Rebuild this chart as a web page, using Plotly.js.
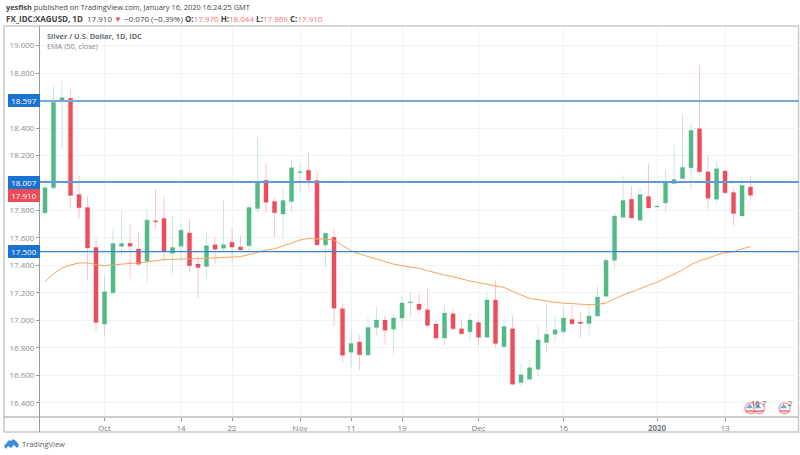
<!DOCTYPE html>
<html><head><meta charset="utf-8">
<script src="https://cdn.plot.ly/plotly-3.0.1.min.js"></script>
<style>html,body{margin:0;padding:0;background:#fff}#c{width:800px;height:455px}</style>
</head><body><div id="c"></div>
<script>
const opens=[17.783,17.965,18.597,18.616,17.916,17.821,17.53,16.973,17.201,17.539,17.561,17.52,17.43,17.725,17.741,17.488,17.539,17.636,17.41,17.393,17.551,17.525,17.568,17.534,17.544,17.814,18.02,17.865,17.775,17.865,18.076,18.093,18.018,17.549,17.605,17.085,16.769,16.842,16.748,16.949,17.002,16.936,17.017,17.128,17.119,17.077,16.973,16.871,17.048,16.939,16.917,16.985,16.878,17.148,16.808,16.939,16.548,16.572,16.645,16.84,16.9,16.917,17.007,16.988,16.978,17.032,17.175,17.437,17.75,17.882,17.729,17.901,17.826,17.855,17.996,18.032,18.11,18.394,18.081,17.882,18.088,17.93,17.76,17.97];
const highs=[17.984,18.706,18.742,18.684,18.052,17.904,17.6,17.325,17.673,17.797,17.695,17.646,17.807,17.955,17.899,17.753,17.7,17.736,17.47,17.646,17.6,17.875,17.666,17.617,17.843,18.332,18.137,17.896,17.957,18.171,18.147,18.219,18.091,17.641,17.665,17.119,16.936,16.895,17.021,17.099,17.034,17.053,17.179,17.204,17.191,17.228,16.997,17.109,17.087,17.009,17.046,17.009,17.199,17.296,17.017,17.034,16.682,16.713,16.961,17.119,17.034,17.083,17.112,17.063,17.119,17.253,17.452,17.784,18.057,17.976,17.959,18.142,17.834,18.098,18.275,18.506,18.438,18.856,18.202,18.154,18.088,17.967,18.04,18.044];
const lows=[17.749,17.948,18.25,17.819,17.739,17.296,16.924,16.893,17.2,17.466,17.301,17.393,17.277,17.668,17.427,17.342,17.427,17.35,17.163,17.313,17.406,17.51,17.427,17.508,17.483,17.79,17.783,17.605,17.593,17.792,17.938,17.964,17.549,17.386,16.958,16.694,16.662,16.64,16.747,16.888,16.822,16.747,16.968,17.026,17.041,16.963,16.851,16.815,16.924,16.902,16.851,16.82,16.878,16.796,16.808,16.529,16.519,16.572,16.597,16.767,16.84,16.9,16.961,16.876,16.893,17.029,17.175,17.376,17.733,17.746,17.729,17.818,17.822,17.789,17.996,18.032,17.947,18.057,17.806,17.845,17.928,17.687,17.76,17.869];
const closes=[17.965,18.587,18.62,17.909,17.819,17.527,16.985,17.209,17.559,17.559,17.539,17.408,17.729,17.717,17.5,17.53,17.656,17.398,17.384,17.544,17.517,17.551,17.534,17.513,17.821,18.004,17.86,17.784,17.872,18.11,18.081,18.02,17.549,17.634,17.089,16.747,16.832,16.75,16.949,17.002,16.929,17.017,17.126,17.133,17.08,16.963,16.871,17.053,16.939,16.902,17.002,16.878,17.148,16.832,16.956,16.536,16.604,16.655,16.857,16.9,16.932,17.017,16.976,16.978,17.032,17.17,17.437,17.76,17.872,17.746,17.916,17.818,17.831,18.008,18.025,18.113,18.382,18.081,17.889,18.103,17.928,17.777,17.981,17.91];
const ema=[17.282,17.34,17.381,17.403,17.418,17.418,17.406,17.398,17.403,17.41,17.415,17.418,17.427,17.432,17.442,17.444,17.449,17.449,17.449,17.452,17.454,17.457,17.461,17.464,17.478,17.496,17.512,17.52,17.539,17.563,17.585,17.597,17.592,17.592,17.585,17.544,17.507,17.483,17.464,17.447,17.427,17.41,17.398,17.391,17.379,17.362,17.345,17.33,17.318,17.301,17.286,17.274,17.264,17.255,17.24,17.211,17.187,17.16,17.151,17.139,17.131,17.126,17.122,17.114,17.114,17.117,17.126,17.156,17.185,17.207,17.233,17.255,17.277,17.306,17.335,17.367,17.406,17.435,17.452,17.476,17.493,17.5,17.52,17.537];
const tickBars=[7,16,22,30,36,42,51,61,72,80];
const tickLabels=['Oct','14','22','Nov','11','19','Dec','16','<b>2020</b>','13'];
const priceTicks=[16.4,16.6,16.8,17,17.2,17.4,17.6,17.8,18,18.2,18.4,18.6,18.8,19];
const priceTickLabels=['16.400','16.600','16.800','17.000','17.200','17.400','17.600','17.800','','18.200','18.400','','18.800','19.000'];
const hLevels=[18.597,18.007,17.5];
const eventBars=[83,84,87];
const eventLabels=['16','7','2'];
const eventLevel=16.36;

const W=800,H=455,L=40,R=1,T=27,B=38;
const px=x=>(x-L)/(W-L-R), py=y=>1-(y-T)/(H-T-B);
const bars=opens.map((_,i)=>i);
const UP='#53b987',DN='#eb4d5c';
const FONT='"Open Sans", "Liberation Sans", sans-serif';

const traces=[
 {type:'candlestick',x:bars,open:opens,high:highs,low:lows,close:closes,
  increasing:{line:{color:'rgba(83,185,135,0.32)',width:1},fillcolor:UP},
  decreasing:{line:{color:'rgba(235,77,92,0.32)',width:1},fillcolor:DN},
  whiskerwidth:0,showlegend:false,hoverinfo:'skip'},
 {type:'scatter',mode:'lines',x:bars,y:ema,line:{color:'#f7a35c',width:1},showlegend:false,hoverinfo:'skip'},
 {type:'scatter',mode:'markers',x:eventBars,y:eventBars.map(()=>eventLevel),
  marker:{symbol:'circle',size:11,color:'#fff',line:{color:'#f5a3aa',width:1.5}},showlegend:false,hoverinfo:'skip',cliponaxis:false},
 {type:'scatter',mode:'markers',x:eventBars.map(v=>v-0.12),y:eventBars.map(()=>eventLevel+0.012),
  marker:{symbol:'triangle-up',size:6,color:'#6ea6e0'},showlegend:false,hoverinfo:'skip',cliponaxis:false},
 {type:'scatter',mode:'markers',x:eventBars,y:eventBars.map(()=>eventLevel-0.02),
  marker:{symbol:'line-ew',size:7,line:{color:'#ee6b76',width:1.5}},showlegend:false,hoverinfo:'skip',cliponaxis:false}
];

const shapes=[
 {type:'rect',xref:'paper',yref:'paper',x0:px(4),x1:px(798.5),y0:py(26),y1:py(432),line:{color:'#c9c9c9',width:1.5},layer:'below'},
 {type:'line',xref:'paper',yref:'paper',x0:px(4),x1:px(798.5),y0:py(417),y1:py(417),line:{color:'#9a9a9a',width:1}},
 {type:'line',xref:'paper',yref:'paper',x0:px(39.5),x1:px(39.5),y0:py(26),y1:py(432),line:{color:'#9a9a9a',width:1}},
 {type:'line',xref:'paper',yref:'y',x0:0,x1:1,y0:hLevels[0],y1:hLevels[0],line:{color:'#76a9dd',width:2}},
 {type:'line',xref:'paper',yref:'y',x0:0,x1:1,y0:hLevels[1],y1:hLevels[1],line:{color:'#5f9bd8',width:2}},
 {type:'line',xref:'paper',yref:'y',x0:0,x1:1,y0:hLevels[2],y1:hLevels[2],line:{color:'#3b85d0',width:1.2}},
 {type:'path',xref:'paper',yref:'paper',fillcolor:'#3b8fdc',line:{width:0},
  path:'M'+[[4,446],[9,440],[11,441],[13,439],[16,441],[19,445],[17,448],[14,445],[11,448],[8,446],[6,449],[4,446]].map(p=>px(p[0])+' '+py(p[1])).join(' L')+' Z'}
];

function ann(x,y,text,size,color,extra){return Object.assign({xref:'paper',yref:'paper',x:px(x),y:py(y),text:text,showarrow:false,xanchor:'left',yanchor:'middle',font:{family:FONT,size:size,color:color}},extra||{});}
function tag(level,text,bg){return {xref:'paper',yref:'y',x:px(39.5),y:level,text:text,showarrow:false,xanchor:'right',yanchor:'middle',bgcolor:bg,bordercolor:bg,borderpad:0,width:30,align:'center',font:{family:FONT,size:8,color:'#fff'}};}
const pink='#f5707d';
const annotations=[
 ann(4,7.5,'<b>yesfish</b> published on TradingView.com, January 16, 2020 16:24:25 GMT',7.4,'#444'),
 ann(4,18,'<b>FX_IDC:XAGUSD, 1D</b>  17.910 <span style="color:'+DN+'">▼</span> −0.070 (−0.39%) <b>O:</b><span style="color:'+pink+'">17.970</span> <b>H:</b><span style="color:'+pink+'">18.044</span> <b>L:</b><span style="color:'+pink+'">17.869</span> <b>C:</b><span style="color:'+pink+'">17.910</span>',8,'#444'),
 ann(44.5,36,'<b>Silver / U.S. Dollar, 1D, IDC</b>',7.3,'#6a6d78'),
 ann(44.5,46,'EMA (50, close)',7.3,'#85888f'),
 ann(19.5,444,'TradingView',7.5,'#5a5d66'),
 tag(hLevels[0],'18.597','#1a73d1'),
 tag(hLevels[1],'18.007','#1a73d1'),
 tag(17.91,'17.910',DN),
 tag(hLevels[2],'17.500','#1a73d1')
];
eventBars.forEach((b,i)=>annotations.push({xref:'x',yref:'y',x:b+0.6,y:eventLevel+0.04,text:eventLabels[i],showarrow:false,xanchor:'center',font:{family:FONT,size:7.5,color:'#555'}}));

Plotly.newPlot('c',traces,{
 width:W,height:H,margin:{l:L,r:R,t:T,b:B,pad:0},paper_bgcolor:'#fff',plot_bgcolor:'#fff',
 font:{family:FONT,size:8,color:'#8a8d94'},showlegend:false,
 xaxis:{type:'linear',range:[-0.59,88.7],tickmode:'array',tickvals:tickBars,ticktext:tickLabels,rangeslider:{visible:false},
  showgrid:true,gridcolor:'#eef3f7',gridwidth:1,zeroline:false,showline:false,ticks:'outside',ticklen:3,tickcolor:'#9a9a9a',
  tickfont:{family:FONT,size:8,color:'#787b86'}},
 yaxis:{range:[16.297,19.135],tickmode:'array',tickvals:priceTicks,ticktext:priceTickLabels,
  showgrid:true,gridcolor:'#f0f3f8',gridwidth:1,zeroline:false,showline:false,ticks:'outside',ticklen:3,tickcolor:'#9a9a9a',
  tickfont:{family:FONT,size:8,color:'#8a8d94'}},
 shapes:shapes,annotations:annotations
},{displayModeBar:false,staticPlot:true});
</script></body></html>
